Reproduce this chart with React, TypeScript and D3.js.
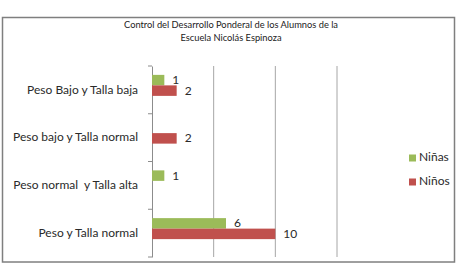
import * as d3 from 'd3';
import { useEffect, useRef } from 'react';

// chart data
const categories = [
  'Peso Bajo y Talla baja',
  'Peso bajo y Talla normal',
  'Peso normal  y Talla alta',
  'Peso y Talla normal',
];
const seriesNames = ['Niñas', 'Niños'];
const ninas = [1, 0, 1, 6];
const ninos = [2, 2, 0, 10];
const xTicks = [0, 5, 10, 15];
const titleLines = [
  'Control del Desarrollo Ponderal de los Alumnos de la',
  'Escuela Nicolás Espinoza',
];
const colors = ['#9bbb59', '#c0504d'];

const W = 457;
const H = 268;
const FONT = 'Lato, "Liberation Sans", sans-serif';

const App = () => {
  const svgRef = useRef<SVGSVGElement>(null);

  useEffect(() => {
    const svg = d3.select(svgRef.current);
    svg.selectAll('*').remove();

    // outer frame
    svg.append('rect')
      .attr('x', 2.5).attr('y', 17.5)
      .attr('width', 452).attr('height', 244.5)
      .attr('fill', '#fff')
      .attr('stroke', '#7f7f7f')
      .attr('stroke-width', 1.5);

    // title
    svg.append('g')
      .selectAll('text')
      .data(titleLines)
      .enter()
      .append('text')
      .attr('x', 231)
      .attr('y', (d, i) => 28 + i * 13)
      .attr('text-anchor', 'middle')
      .attr('font-family', FONT)
      .attr('font-size', 9.3)
      .attr('fill', '#222')
      .text(d => d);

    const x = d3.scaleLinear().domain([0, 15]).range([152, 337]);
    const y = d3.scaleBand().domain(categories).range([66, 257]);
    const inner = d3.scaleBand().domain(seriesNames).range([0, 21]);
    const barOffset = y.bandwidth() / 2 - 15;

    // gridlines
    svg.append('g')
      .selectAll('line')
      .data(xTicks.slice(1))
      .enter()
      .append('line')
      .attr('x1', d => x(d)).attr('x2', d => x(d))
      .attr('y1', 66).attr('y2', 257)
      .attr('stroke', '#a6a6a6')
      .attr('stroke-width', 1);

    // category axis
    const yAxis = d3.axisLeft(y).tickSize(0).tickPadding(14);
    const axisG = svg.append('g')
      .attr('transform', `translate(${x(0)},0)`)
      .call(yAxis);
    axisG.select('.domain').attr('stroke', '#8c8c8c');
    axisG.selectAll('text')
      .attr('font-family', FONT)
      .attr('font-size', 12)
      .attr('fill', '#2a2a2a')
      .style('white-space', 'pre');
    // tick marks between categories
    const bounds = categories.map(c => y(c) as number).concat([257]);
    axisG.selectAll('line.sep')
      .data(bounds)
      .enter()
      .append('line')
      .attr('class', 'sep')
      .attr('x1', -4).attr('x2', 0)
      .attr('y1', d => d).attr('y2', d => d)
      .attr('stroke', '#8c8c8c');

    // bars
    const rows = categories.flatMap((c, i) => [
      { cat: c, s: seriesNames[0], v: ninas[i], color: colors[0] },
      { cat: c, s: seriesNames[1], v: ninos[i], color: colors[1] },
    ]);
    const barsG = svg.append('g');
    barsG.selectAll('rect')
      .data(rows.filter(d => d.v > 0))
      .enter()
      .append('rect')
      .attr('x', x(0))
      .attr('y', d => (y(d.cat) as number) + barOffset + (inner(d.s) as number))
      .attr('width', d => x(d.v) - x(0))
      .attr('height', inner.bandwidth())
      .attr('fill', d => d.color);

    barsG.selectAll('text')
      .data(rows.filter(d => d.v > 0))
      .enter()
      .append('text')
      .attr('x', d => x(d.v) + 8)
      .attr('y', d => (y(d.cat) as number) + barOffset + (inner(d.s) as number) + inner.bandwidth() / 2 + 1)
      .attr('dominant-baseline', 'middle')
      .attr('font-family', FONT)
      .attr('font-size', 12)
      .attr('fill', '#2a2a2a')
      .text(d => d.v);

    // legend
    const leg = svg.append('g')
      .selectAll('g')
      .data(seriesNames)
      .enter()
      .append('g')
      .attr('transform', (d, i) => `translate(409,${158 + i * 24})`);
    leg.append('rect')
      .attr('x', 0).attr('y', -3.5)
      .attr('width', 7).attr('height', 7)
      .attr('fill', (d, i) => colors[i]);
    leg.append('text')
      .attr('x', 10)
      .attr('y', 0)
      .attr('dominant-baseline', 'middle')
      .attr('font-family', FONT)
      .attr('font-size', 12)
      .attr('fill', '#2a2a2a')
      .text(d => d);
  }, []);

  return (
    <svg
      ref={svgRef}
      width={W}
      height={H}
      style={{ position: 'absolute', left: 0, top: 0, background: '#fff' }}
    ></svg>
  );
};

export default App;
